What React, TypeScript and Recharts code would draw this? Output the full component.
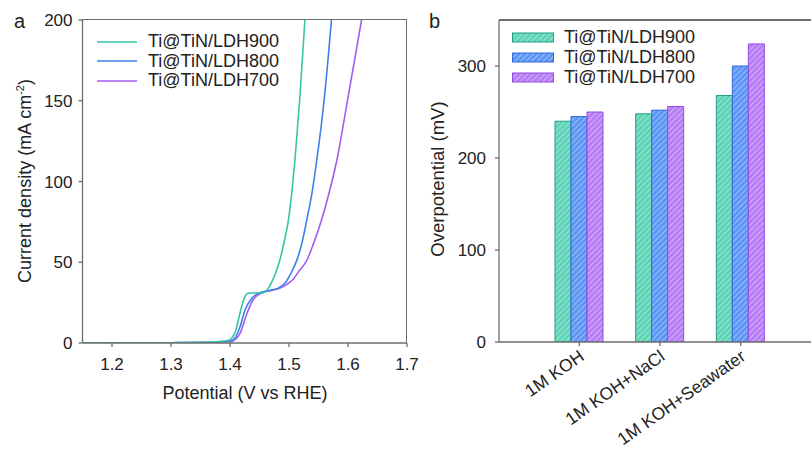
import React from "react";
import { LineChart, Line, BarChart, Bar, XAxis, YAxis, Legend } from "recharts";

const FONT = '"Liberation Sans", Arial, sans-serif';
const AXIS = "#6e6e6e";
const INK = "#222222";

// (a) LSV curves, potential in V vs RHE, current in mA cm-2
const potential900 = [1.15, 1.3, 1.36, 1.39, 1.4, 1.405, 1.41, 1.414, 1.418, 1.423, 1.431, 1.442, 1.451, 1.459, 1.465, 1.471, 1.478, 1.485, 1.492, 1.499, 1.505, 1.51, 1.518, 1.527];
const current900 = [0, 0.2, 0.6, 1.2, 2, 4, 8, 14, 20, 26.6, 30.8, 31.1, 30.8, 31.5, 34, 38, 44, 52, 63, 76, 94, 113, 150, 200];

const potential800 = [1.15, 1.3, 1.37, 1.39, 1.403, 1.41, 1.417, 1.425, 1.437, 1.448, 1.465, 1.482, 1.493, 1.503, 1.513, 1.522, 1.53, 1.539, 1.547, 1.56, 1.572];
const current800 = [0, 0.2, 0.5, 0.8, 1.5, 4, 10, 20, 27.7, 30.8, 32.4, 34, 37, 43, 51, 62, 76, 93, 113, 152, 200];

const potential700 = [1.15, 1.3, 1.37, 1.39, 1.4, 1.41, 1.417, 1.429, 1.439, 1.454, 1.468, 1.485, 1.497, 1.507, 1.518, 1.53, 1.542, 1.555, 1.568, 1.581, 1.6, 1.623];
const current700 = [0, 0.2, 0.4, 0.6, 0.8, 2.5, 6, 18.6, 26.6, 31, 32.4, 34, 36.5, 39.5, 45, 51, 62, 76, 93, 113, 152, 200];

const potentialTicks = [1.2, 1.3, 1.4, 1.5, 1.6, 1.7];
const currentTicks = [0, 50, 100, 150, 200];

// (b) overpotential at the three electrolytes, mV
const electrolytes = ["1M KOH", "1M KOH+NaCl", "1M KOH+Seawater"];
const eta900 = [240, 248, 268];
const eta800 = [245, 252, 300];
const eta700 = [250, 256, 324];
const etaTicks = [0, 100, 200, 300];

const samples = [
  { name: "Ti@TiN/LDH900", line: "#35c4a7", fill: "#5fd3b8", stripe: "#b4eddc", edge: "#1f9f82" },
  { name: "Ti@TiN/LDH800", line: "#3f80e8", fill: "#5d95f4", stripe: "#b9d1fb", edge: "#2f68dc" },
  { name: "Ti@TiN/LDH700", line: "#a45cef", fill: "#b57ef5", stripe: "#e0c8fb", edge: "#9449e4" },
];

const toPoints = (v: number[], j: number[]) => v.map((x, i) => ({ v: x, j: j[i] }));
const curves = [
  { ...samples[2], data: toPoints(potential700, current700) },
  { ...samples[1], data: toPoints(potential800, current800) },
  { ...samples[0], data: toPoints(potential900, current900) },
];

const barData = electrolytes.map((name, i) => ({
  name,
  ldh900: eta900[i],
  ldh800: eta800[i],
  ldh700: eta700[i],
}));
const barKeys = ["ldh900", "ldh800", "ldh700"];

const tickStyle = { fontSize: 17, fill: INK, fontFamily: FONT };

function LineLegend() {
  return (
    <div style={{ fontFamily: FONT, fontSize: 18, color: INK }}>
      {samples.map((s) => (
        <div key={s.name} style={{ display: "flex", alignItems: "center", height: 19.5 }}>
          <svg width={40} height={4} style={{ marginRight: 11 }}>
            <line x1={0} y1={2} x2={40} y2={2} stroke={s.line} strokeWidth={1.6} />
          </svg>
          <span>{s.name}</span>
        </div>
      ))}
    </div>
  );
}

function BarLegend() {
  return (
    <div style={{ fontFamily: FONT, fontSize: 18, color: INK }}>
      {samples.map((s, i) => (
        <div key={s.name} style={{ display: "flex", alignItems: "center", height: 20 }}>
          <svg width={42} height={11} style={{ marginRight: 10 }}>
            <rect x={0.5} y={1} width={41} height={9} fill={`url(#hatch${i})`} stroke={s.edge} strokeWidth={1} />
          </svg>
          <span>{s.name}</span>
        </div>
      ))}
    </div>
  );
}

function CategoryTick({ x, y, payload }: any) {
  const ax = x + 6;
  const ay = y + 11;
  return (
    <text x={ax} y={ay} textAnchor="end" transform={`rotate(-35, ${ax}, ${ay})`} fontSize={17.5} fill={INK} fontFamily={FONT}>
      {payload.value}
    </text>
  );
}

export default function App() {
  return (
    <div style={{ position: "fixed", left: 0, top: 0, width: 811, height: 453, overflow: "hidden", background: "#fff" }}>
      <div style={{ position: "absolute", left: 0, top: 0 }}>
        <LineChart width={420} height={453} margin={{ top: 20, right: 13, bottom: 50, left: 22.5 }}>
          <XAxis
            type="number"
            dataKey="v"
            domain={[1.15, 1.7]}
            ticks={potentialTicks}
            allowDataOverflow
            height={60}
            stroke={AXIS}
            strokeWidth={1.3}
            tickSize={4}
            tickMargin={11}
            tick={tickStyle}
          />
          <YAxis
            type="number"
            domain={[0, 200]}
            ticks={currentTicks}
            allowDataOverflow
            width={60}
            stroke={AXIS}
            strokeWidth={1.3}
            tickSize={4}
            tickMargin={6}
            tick={tickStyle}
          />
          {curves.map((c) => (
            <Line
              key={c.name}
              data={c.data}
              dataKey="j"
              name={c.name}
              type="monotone"
              stroke={c.line}
              strokeWidth={1.6}
              dot={false}
              isAnimationActive={false}
            />
          ))}
          <Legend
            layout="vertical"
            align="center"
            verticalAlign="middle"
            wrapperStyle={{ left: 97, top: 32, width: "auto", height: "auto" }}
            content={() => <LineLegend />}
          />
        </LineChart>
      </div>

      <div style={{ position: "absolute", left: 420, top: 0 }}>
        <BarChart width={420} height={453} data={barData} margin={{ top: 20, right: 19, bottom: 31, left: 19 }} barGap={0}>
          <defs>
            {samples.map((s, i) => (
              <pattern key={s.name} id={`hatch${i}`} patternUnits="userSpaceOnUse" width={4} height={4} patternTransform="rotate(45)">
                <rect width={4} height={4} fill={s.fill} />
                <line x1={0} y1={0} x2={0} y2={4} stroke={s.stripe} strokeWidth={1.4} />
              </pattern>
            ))}
          </defs>
          <XAxis
            dataKey="name"
            padding={{ left: 40, right: 40 }}
            height={80}
            stroke={AXIS}
            strokeWidth={1.3}
            tickSize={4}
            interval={0}
            tick={<CategoryTick />}
          />
          <YAxis
            type="number"
            domain={[0, 350]}
            ticks={etaTicks}
            allowDataOverflow
            width={60}
            stroke={AXIS}
            strokeWidth={1.3}
            tickSize={4}
            tickMargin={9}
            tick={tickStyle}
          />
          {barKeys.map((k, i) => (
            <Bar
              key={k}
              dataKey={k}
              name={samples[i].name}
              barSize={16}
              fill={`url(#hatch${i})`}
              stroke={samples[i].edge}
              strokeWidth={1}
              isAnimationActive={false}
            />
          ))}
          <Legend
            layout="vertical"
            align="center"
            verticalAlign="middle"
            wrapperStyle={{ left: 92, top: 27, width: "auto", height: "auto" }}
            content={() => <BarLegend />}
          />
        </BarChart>
      </div>

      {/* frame edges (top / right) of both plot boxes, above the charts */}
      <div style={{ position: "absolute", zIndex: 5, left: 82, top: 19, width: 324, height: 323, borderTop: `1.5px solid ${AXIS}`, borderRight: `1.5px solid ${AXIS}`, pointerEvents: "none" }} />
      <div style={{ position: "absolute", zIndex: 5, left: 499, top: 19, width: 320, height: 1.5, background: AXIS, pointerEvents: "none" }} />

      <svg width={811} height={453} style={{ position: "absolute", zIndex: 6, left: 0, top: 0, pointerEvents: "none" }} fontFamily={FONT} fill={INK}>
        <text x={14} y={28} fontSize={20}>a</text>
        <text x={429} y={28} fontSize={20}>b</text>
        <text x={245} y={399} fontSize={18} textAnchor="middle">Potential (V vs RHE)</text>
        <text x={31} y={181} fontSize={18} textAnchor="middle" transform="rotate(-90, 31, 181)">
          Current density (mA cm
          <tspan fontSize={11} dy={-7}>-2</tspan>
          <tspan dy={7}>)</tspan>
        </text>
        <text x={444} y={179} fontSize={18.5} textAnchor="middle" transform="rotate(-90, 444, 179)">
          Overpotential (mV)
        </text>
      </svg>
    </div>
  );
}
